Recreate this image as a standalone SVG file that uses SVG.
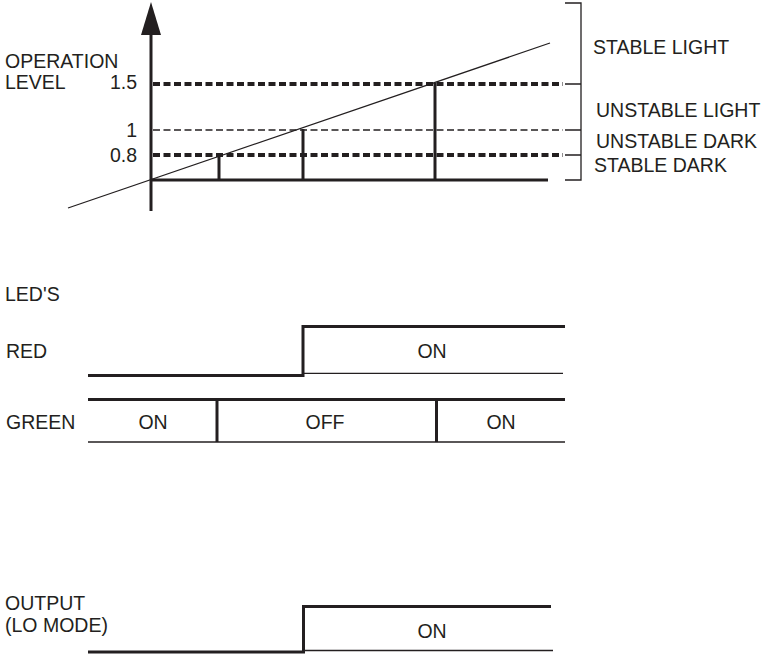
<svg xmlns="http://www.w3.org/2000/svg" width="761" height="655" viewBox="0 0 761 655">
<style>
text{font-family:"Liberation Sans",Arial,sans-serif;font-size:19.5px;fill:#231f20}
.r{text-anchor:end}
.m{text-anchor:middle}
.thick{stroke:#231f20;stroke-width:3;fill:none}
.thin{stroke:#231f20;stroke-width:1.3;fill:none}
.dk{stroke:#231f20;stroke-width:3.8;stroke-dasharray:7 3.5;fill:none}
.dt{stroke:#231f20;stroke-width:1.3;stroke-dasharray:7 3.5;fill:none}
</style>
<rect width="761" height="655" fill="#fff"/>
<g id="chart">
<g id="axis">
<line class="thick" x1="151" y1="30" x2="151" y2="211"/>
<polygon points="151,2 141,35 161,35" fill="#231f20"/>
<line class="thick" x1="151" y1="180" x2="548" y2="180"/>
</g>
<g id="levels">
<line class="dk" x1="153" y1="84" x2="563" y2="84"/>
<line class="dt" x1="153" y1="130" x2="563" y2="130"/>
<line class="dk" x1="153" y1="155" x2="563" y2="155"/>
<text class="r" x="137" y="89">1.5</text>
<text class="r" x="137" y="137">1</text>
<text class="r" x="137" y="162">0.8</text>
<text x="5" y="68">OPERATION</text>
<text x="5" y="89">LEVEL</text>
</g>
<g id="ramp">
<line class="thin" x1="68" y1="208" x2="550" y2="43"/>
<line class="thick" x1="219" y1="155" x2="219" y2="180"/>
<line class="thick" x1="303" y1="129" x2="303" y2="180"/>
<line class="thick" x1="435" y1="83" x2="435" y2="180"/>
</g>
<g id="bracket">
<path class="thin" d="M565,3H581V180H565M565,84H581M565,130H581M565,155H581"/>
<text x="593" y="54">STABLE LIGHT</text>
<text x="596" y="117">UNSTABLE LIGHT</text>
<text x="596" y="148">UNSTABLE DARK</text>
<text x="594" y="172">STABLE DARK</text>
</g>
</g>
<g id="leds">
<text x="5" y="301">LED'S</text>
<g id="red">
<text x="6" y="358">RED</text>
<path class="thick" d="M88,375.5H303V326.5H565" stroke-width="3.5"/>
<line class="thin" x1="303" y1="373.3" x2="563" y2="373.3"/>
<text class="m" x="432" y="358">ON</text>
</g>
<g id="green">
<text x="6" y="428.5">GREEN</text>
<line class="thick" x1="88" y1="399.5" x2="565" y2="399.5" stroke-width="3.5"/>
<line class="thin" x1="88" y1="442" x2="565" y2="442"/>
<line class="thick" x1="217" y1="399.5" x2="217" y2="442"/>
<line class="thick" x1="436.5" y1="399.5" x2="436.5" y2="442"/>
<text class="m" x="153" y="428.5">ON</text>
<text class="m" x="325" y="428.5">OFF</text>
<text class="m" x="501" y="428.5">ON</text>
</g>
</g>
<g id="output">
<text x="5" y="610">OUTPUT</text>
<text x="5" y="632">(LO MODE)</text>
<path class="thick" d="M88,652H303.5V606.5H551" stroke-width="3.5"/>
<line class="thin" x1="303" y1="650.5" x2="553" y2="650.5"/>
<text class="m" x="432" y="638">ON</text>
</g>
</svg>
